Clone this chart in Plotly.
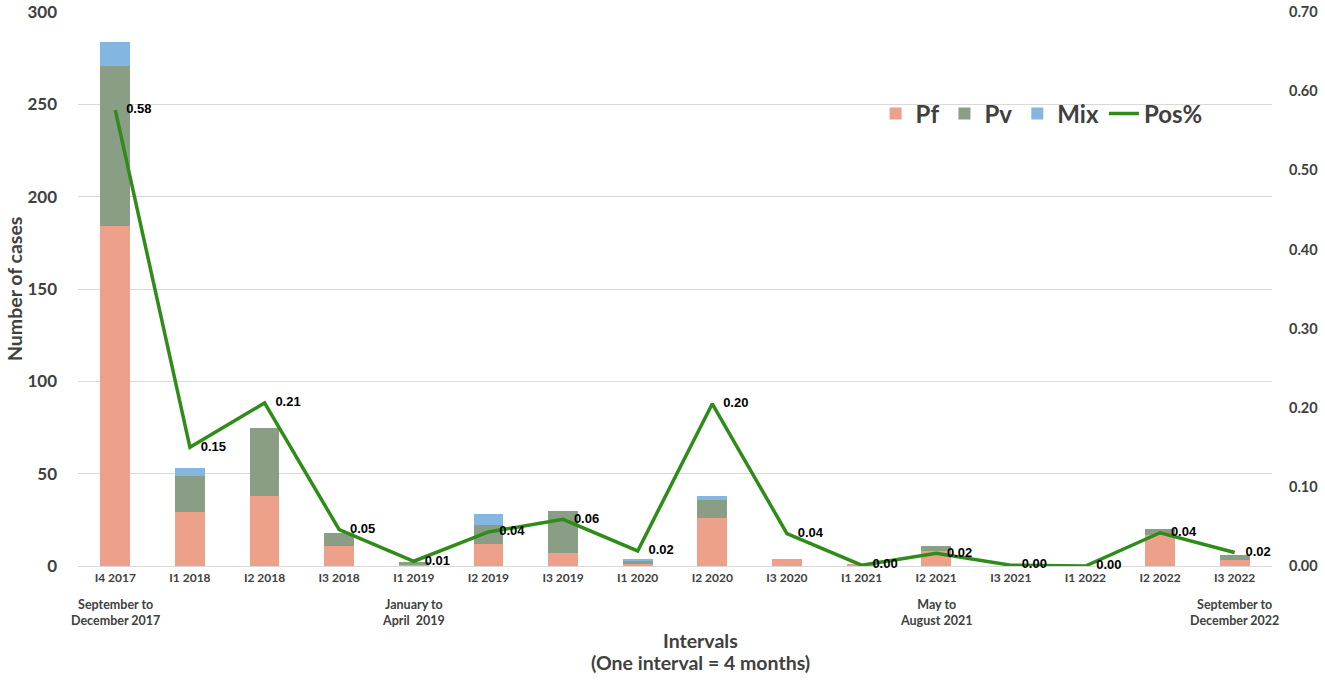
import plotly.graph_objects as go

categories = ["I4 2017", "I1 2018", "I2 2018", "I3 2018", "I1 2019", "I2 2019", "I3 2019", "I1 2020",
              "I2 2020", "I3 2020", "I1 2021", "I2 2021", "I3 2021", "I1 2022", "I2 2022", "I3 2022"]
sub_labels = ["September to<br>December 2017", "", "", "", "January to<br>April  2019", "", "", "",
              "", "", "", "May to<br>August 2021", "", "", "", "September to<br>December 2022"]
pf = [184, 29, 38, 11, 1, 12, 7, 1, 26, 4, 1, 8, 0, 0, 17, 3]
pv = [87, 20, 37, 7, 1, 10, 23, 2, 10, 0, 0, 3, 0, 0, 3, 3]
mix = [13, 4, 0, 0, 0, 6, 0, 1, 2, 0, 0, 0, 0, 0, 0, 0]
pos = [0.576, 0.150, 0.206, 0.046, 0.006, 0.043, 0.059, 0.019, 0.205, 0.041, 0.001, 0.016, 0.001, 0.000, 0.042, 0.017]
left_ticks = [0, 50, 100, 150, 200, 250, 300]
right_ticks = [0.0, 0.1, 0.2, 0.3, 0.4, 0.5, 0.6, 0.7]

FONT = "Lato"
GREY = "#404040"

fig = go.Figure()
fig.add_trace(go.Bar(x=categories, y=pf, name="Pf", marker=dict(color="#EDA18A", line=dict(width=0))))
fig.add_trace(go.Bar(x=categories, y=pv, name="Pv", marker=dict(color="#8A9E86", line=dict(width=0))))
fig.add_trace(go.Bar(x=categories, y=mix, name="Mix", marker=dict(color="#83B6E0", line=dict(width=0))))
fig.add_trace(go.Scatter(x=categories, y=pos, name="Pos%", yaxis="y2", mode="lines+text",
                         line=dict(color="#2F8C18", width=3.5),
                         text=["\u00a0\u00a0\u00a0" + f"{v:.2f}" for v in pos], textposition="middle right",
                         textfont=dict(family="Liberation Sans", size=13, color="black", weight="bold"),
                         cliponaxis=False))

annotations = [
    dict(text="Number of cases", xref="paper", yref="paper", x=-0.0536, y=0.5, xanchor="center",
         yanchor="middle", textangle=-90, showarrow=False,
         font=dict(family=FONT, size=19.5, color=GREY, weight="bold")),
    dict(text="Intervals", xref="paper", yref="paper", x=0.521, y=-0.1336,
         xanchor="center", yanchor="middle", showarrow=False,
         font=dict(family=FONT, size=19.5, color=GREY, weight="bold")),
    dict(text="(One interval = 4 months)", xref="paper", yref="paper", x=0.521, y=-0.175,
         xanchor="center", yanchor="middle", showarrow=False,
         font=dict(family=FONT, size=19.5, color=GREY, weight="bold")),
]
for c, s in zip(categories, sub_labels):
    if s:
        annotations.append(dict(text=s, x=c, xref="x", yref="paper", y=-0.0839, xanchor="center",
                                yanchor="middle", showarrow=False,
                                font=dict(family=FONT, size=12.5, color=GREY, weight="bold")))

fig.update_layout(
    width=1325, height=681, autosize=False,
    barmode="stack", bargap=0.6,
    plot_bgcolor="white", paper_bgcolor="white",
    margin=dict(l=78, r=53, t=12, b=115),
    font=dict(family=FONT, color=GREY),
    showlegend=True,
    legend=dict(orientation="h", x=0.668, y=0.816, xanchor="left", yanchor="middle",
                traceorder="normal",
                font=dict(family=FONT, size=24, color=GREY, weight="bold"),
                bgcolor="rgba(0,0,0,0)", itemwidth=30, tracegroupgap=0),
    xaxis=dict(tickmode="array", tickvals=categories, ticktext=categories, range=[-0.5, 15.5],
               tickfont=dict(family=FONT, size=12, color=GREY, weight="bold"),
               showgrid=False, showline=False, ticks="", ticklabelstandoff=3, automargin=False),
    yaxis=dict(range=[0, 300], tickvals=left_ticks, showgrid=True, gridcolor="#D9D9D9", gridwidth=1,
               zeroline=True, zerolinecolor="#D9D9D9", zerolinewidth=1,
               tickfont=dict(family=FONT, size=17, color=GREY, weight="bold"),
               ticklabelstandoff=20, ticklabeloverflow="allow", automargin=False),
    yaxis2=dict(range=[0, 0.7], tickvals=right_ticks, tickformat=".2f", overlaying="y", side="right",
                showgrid=False, zeroline=False,
                tickfont=dict(family=FONT, size=14.5, color=GREY, weight="bold"),
                ticklabelstandoff=16, ticklabeloverflow="allow", automargin=False),
    annotations=annotations,
)

fig.write_html("out.html", config={"displayModeBar": False},
               post_script="document.body.style.margin='0';document.body.style.overflow='hidden';")
